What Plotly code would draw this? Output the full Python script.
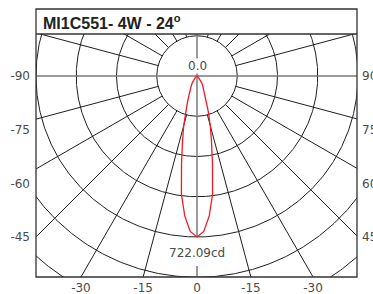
import numpy as np
import plotly.graph_objects as go

# ---------------- data ----------------
title_text = "MI1C551- 4W - 24<sup>o</sup>"
angles_deg = [0, 2.5, 5, 7.5, 10, 12.5, 15, 17.5, 20, 22.5, 25, 27.5, 30, 35, 40, 45, 50, 60, 70, 80, 90]
intensity_cd = [722.09, 698, 630, 535, 400, 300, 230, 170, 125, 95, 78, 65, 52, 36, 22, 12, 6, 2, 1, 0, 0]
max_cd = 722.09
center_label = "0.0"
max_label = "722.09cd"
left_labels = ["-90", "-75", "-60", "-45"]
right_labels = ["90", "75", "60", "45"]
bottom_angles = [-30, -15, 0, 15, 30]
bottom_labels = ["-30", "-15", "0", "-15", "-30"]
ring_count = 6
radial_step_deg = 15

# ---------------- geometry ----------------
W, H = 373, 294
ML, MR, MT, MB = 36, 16, 34, 17
plot_w = W - ML - MR
plot_h = H - MT - MB
cd_per_px = max_cd / 161.0
x_range = [-161 * cd_per_px, (plot_w - 161) * cd_per_px]
y_range = [-201 * cd_per_px, (plot_h - 201) * cd_per_px]

ring_step = max_cd / 4.0
grid_col = "#1e1e1e"
axis_col = "#7a7a7a"
text_col = "#4a4a4a"

fig = go.Figure()

# rings
t = np.linspace(0, 2 * np.pi, 721)
gx, gy = [], []
for k in range(1, ring_count + 1):
    r = ring_step * k
    gx += list(r * np.sin(t)) + [None]
    gy += list(r * np.cos(t)) + [None]
# radial lines (from first ring outward)
for a in range(0, 360, radial_step_deg):
    if a % 90 == 0:
        continue
    th = np.radians(a)
    r0, r1 = ring_step, ring_step * 12
    gx += [r0 * np.sin(th), r1 * np.sin(th), None]
    gy += [r0 * np.cos(th), r1 * np.cos(th), None]
fig.add_trace(go.Scatter(x=gx, y=gy, mode="lines", line=dict(color=grid_col, width=1),
                         hoverinfo="skip", showlegend=False))

# central axes
big = max_cd * 5
fig.add_trace(go.Scatter(x=[-big, big], y=[0, 0], mode="lines",
                         line=dict(color=axis_col, width=1.5), hoverinfo="skip", showlegend=False))
fig.add_trace(go.Scatter(x=[0, 0, None, 0, 0], y=[big, -max_cd, None, -max_cd * 1.18, -big],
                         mode="lines", line=dict(color=axis_col, width=1.5),
                         hoverinfo="skip", showlegend=False))

# intensity curve (symmetric C0-C180 plane)
ang = np.array(angles_deg, dtype=float)
val = np.array(intensity_cd, dtype=float)
full_ang = np.concatenate([-ang[::-1], ang[1:]])
full_val = np.concatenate([val[::-1], val[1:]])
th = np.radians(full_ang)
fig.add_trace(go.Scatter(x=full_val * np.sin(th), y=-full_val * np.cos(th), mode="lines",
                         line=dict(color="#ee1c24", width=1.3), hoverinfo="skip", showlegend=False))

# secondary y axis for the right-hand labels
fig.add_trace(go.Scatter(x=[0], y=[0], yaxis="y2", mode="markers", marker=dict(opacity=0),
                         hoverinfo="skip", showlegend=False))

ytick_vals = list(-np.linspace(0, max_cd, len(left_labels)))
yb = -y_range[0]
xtick_vals = [yb * np.tan(np.radians(a)) for a in bottom_angles]

tick_font = dict(family="DejaVu Sans", size=12, color=text_col)
fig.update_layout(
    width=W, height=H,
    margin=dict(l=ML, r=MR, t=MT, b=MB, pad=0, autoexpand=False),
    paper_bgcolor="white", plot_bgcolor="white",
    xaxis=dict(range=x_range, showgrid=False, zeroline=False, showline=False, automargin=False,
               tickmode="array", tickvals=xtick_vals, ticktext=bottom_labels,
               tickfont=tick_font, ticks="", ticklabelstandoff=2, fixedrange=True),
    yaxis=dict(range=y_range, showgrid=False, zeroline=False, showline=False, automargin=False,
               tickmode="array", tickvals=ytick_vals, ticktext=left_labels,
               tickfont=tick_font, ticks="", ticklabelstandoff=5, fixedrange=True),
    yaxis2=dict(range=y_range, overlaying="y", side="right", showgrid=False, zeroline=False,
                showline=False, automargin=False, tickmode="array", tickvals=ytick_vals,
                ticktext=right_labels, tickfont=tick_font, ticks="", ticklabelstandoff=4,
                fixedrange=True),
    shapes=[
        dict(type="rect", xref="paper", yref="paper", x0=0, x1=1, y0=0, y1=1 + 25 / plot_h,
             line=dict(color="#333333", width=1.3), layer="above"),
        dict(type="line", xref="paper", yref="paper", x0=0, x1=1, y0=1, y1=1,
             line=dict(color="#333333", width=1.3), layer="above"),
    ],
    annotations=[
        dict(text="<b>" + title_text + "</b>", xref="paper", yref="paper", x=0, xshift=5,
             y=1 + 12.5 / plot_h, xanchor="left", yanchor="middle", showarrow=False,
             font=dict(family="Liberation Sans", size=16, color="#222222")),
        dict(text=center_label, x=0, y=0, yshift=10, xanchor="center", yanchor="middle",
             showarrow=False, font=tick_font, bgcolor="white", borderpad=0),
        dict(text=max_label, x=0, y=-max_cd, yshift=-16, xanchor="center", yanchor="middle",
             showarrow=False, font=tick_font),
    ],
)

fig.write_html("out.html", config={"displayModeBar": False},
               post_script="document.body.style.margin='0';")
